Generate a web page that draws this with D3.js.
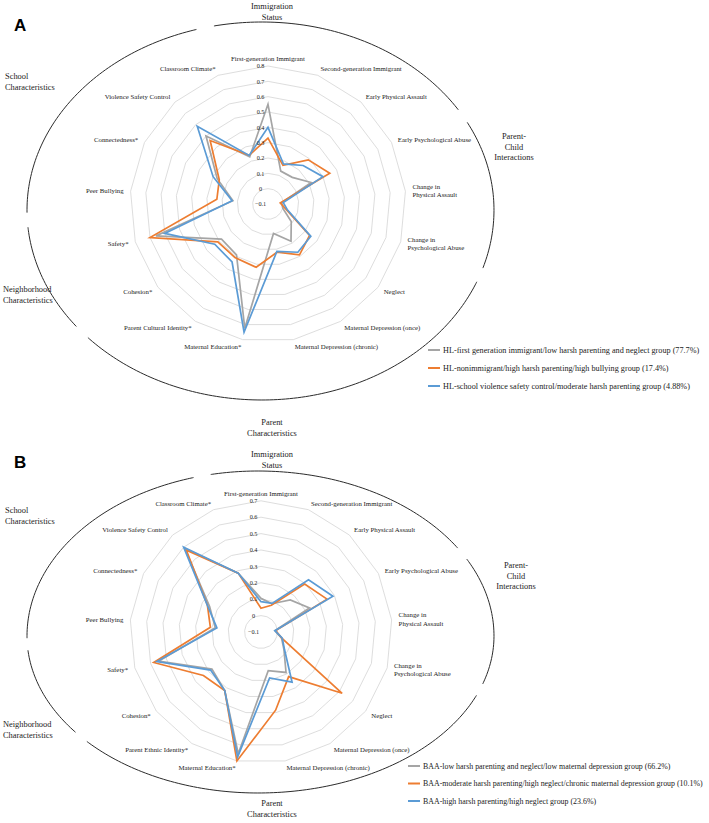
<!DOCTYPE html>
<html><head><meta charset="utf-8">
<script src="https://cdn.jsdelivr.net/npm/d3@7"></script>
<style>
body{margin:0;background:#fff;}
text{font-family:"Liberation Serif","Times New Roman",serif;fill:#222;}
</style>
</head><body>
<svg id="c" width="709" height="823"></svg>
<script>
// ---------- DATA ----------
const axesA = ["First-generation Immigrant","Second-generation Immigrant","Early Physical Assault","Early Psychological Abuse",
  "Change in|Physical Assault","Change in|Psychological Abuse","Neglect","Maternal Depression (once)","Maternal Depression (chronic)",
  "Maternal Education*","Parent Cultural Identity*","Cohesion*","Safety*","Peer Bullying","Connectedness*","Violence Safety Control","Classroom Climate*"];
const axesB = ["First-generation Immigrant","Second-generation Immigrant","Early Physical Assault","Early Psychological Abuse",
  "Change in|Physical Assault","Change in|Psychological Abuse","Neglect","Maternal Depression (once)","Maternal Depression (chronic)",
  "Maternal Education*","Parent Ethnic Identity*","Cohesion*","Safety*","Peer Bullying","Connectedness*","Violence Safety Control","Classroom Climate*"];

const ticksA = [-0.1,0,0.1,0.2,0.3,0.4,0.5,0.6,0.7,0.8];
const ticksB = [-0.1,0,0.1,0.2,0.3,0.4,0.5,0.6,0.7];

const namesA = ["HL-first generation immigrant/low harsh parenting and neglect group (77.7%)",
  "HL-nonimmigrant/high harsh parenting/high bullying group (17.4%)",
  "HL-school violence safety control/moderate harsh parenting group (4.88%)"];
const grayA   = [0.55,0.13,0.135,0.215,-0.01,0.00,0.09,0.185,0.095,0.725,0.29,0.28,0.66,0.13,0.27,0.50,0.23];
const orangeA = [0.33,0.17,0.29,0.35,-0.02,0.02,0.24,0.29,0.22,0.32,0.31,0.31,0.70,0.235,0.255,0.46,0.24];
const blueA   = [0.40,0.18,0.24,0.30,0.00,0.03,0.25,0.27,0.215,0.75,0.345,0.335,0.60,0.135,0.30,0.585,0.24];

const namesB = ["BAA-low harsh parenting and neglect/low maternal depression group (66.2%)",
  "BAA-moderate harsh parenting/high neglect/chronic maternal depression group (10.1%)",
  "BAA-high harsh parenting/high neglect group (23.6%)"];
const grayB   = [0.105,0.085,0.165,0.23,-0.015,0.03,0.075,0.19,0.14,0.655,0.32,0.275,0.55,0.18,0.25,0.59,0.285];
const orangeB = [0.045,0.075,0.295,0.35,-0.01,0.03,0.52,0.22,0.385,0.70,0.32,0.34,0.58,0.21,0.265,0.575,0.285];
const blueB   = [0.085,0.087,0.33,0.39,-0.015,0.035,0.08,0.26,0.185,0.675,0.32,0.285,0.56,0.17,0.265,0.60,0.285];

const colors = ["#a5a5a5","#ed7d31","#5b9bd5"];

const groupsA = [["Immigration","Status"],["School","Characteristics"],["Parent-","Child","Interactions"],["Neighborhood","Characteristics"],["Parent","Characteristics"]];
const groupsB = groupsA;

// ---------- DRAW ----------
const svg = d3.select("#c");

function drawPanel(p) {
  const g = svg.append("g");
  const n = p.axes.length;
  const r = d3.scaleLinear().domain([p.ticks[0], p.ticks[p.ticks.length-1]]).range([0, p.R]);
  const ang = d3.scaleLinear().domain([0, n]).range([0, 2*Math.PI]);
  const c = g.append("g").attr("transform", `translate(${p.cx},${p.cy})`);

  // grid rings
  p.ticks.slice(1).forEach(t => {
    c.append("path")
      .attr("d", d3.lineRadial().angle((d,i)=>ang(i)).radius(()=>r(t)).curve(d3.curveLinearClosed)(d3.range(n)))
      .attr("fill","none").attr("stroke","#d9d9d9").attr("stroke-width",0.9);
  });

  // series
  p.series.forEach((s,k) => {
    c.append("path")
      .attr("d", d3.lineRadial().angle((d,i)=>ang(i)).radius(d=>r(d)).curve(d3.curveLinearClosed)(s))
      .attr("fill","none").attr("stroke",colors[k]).attr("stroke-width",1.7).attr("stroke-linejoin","miter");
  });

  // tick labels
  p.ticks.forEach(t => {
    c.append("text").attr("x",-7.5).attr("y",-r(t)).attr("dy","0.35em")
      .attr("text-anchor","middle").attr("font-size",6.2).text(t === 0 ? "0" : d3.format(".1f")(t));
  });

  // axis labels
  p.axes.forEach((lab,i) => {
    const a = ang(i), rr = p.R + 7;
    const x = rr*Math.sin(a), y = -rr*Math.cos(a);
    const s = Math.sin(a);
    const anchor = Math.abs(s) < 0.1 ? "middle" : (s > 0 ? "start" : "end");
    const lines = lab.split("|");
    const t = c.append("text").attr("text-anchor",anchor).attr("font-size",6.8);
    lines.forEach((ln,j) => {
      t.append("tspan").attr("x",x).attr("y", y + (j - (lines.length-1)/2)*8.4).attr("dy","0.35em").text(ln);
    });
  });

  // enclosing oval arcs with gaps
  const e = p.ell;
  const gaps = e.gaps.slice().sort((a,b)=>a-b);
  const pt = t => {
    const co = Math.cos(t*Math.PI/180), si = Math.sin(t*Math.PI/180);
    return [e.cx + (co >= 0 ? e.rxR : e.rxL)*co, e.cy + (si >= 0 ? e.ryB : e.ryT)*si];
  };
  gaps.forEach((g0,i) => {
    const start = g0 + e.gw;
    const end = (i < gaps.length-1 ? gaps[i+1] : gaps[0] + 360) - e.gw;
    const pts = d3.range(start, end, 1).concat([end]).map(pt);
    g.append("path").attr("d", d3.line().curve(d3.curveBasis)(pts)).attr("fill","none").attr("stroke","#2b2b2b").attr("stroke-width",1);
  });

  // group labels
  p.groupPos.forEach((gp,k) => {
    const t = g.append("text").attr("text-anchor",gp[2]).attr("font-size",8.4);
    p.groups[k].forEach((ln,j) => t.append("tspan").attr("x",gp[0]).attr("y",gp[1]+j*10.5).text(ln));
  });

  // panel letter
  g.append("text").attr("x",p.letter[1]).attr("y",p.letter[2])
    .style("font-family","Arial, 'Liberation Sans', sans-serif").attr("font-weight","bold").attr("font-size",17).style("fill","#000").text(p.letter[0]);

  // legend
  p.names.forEach((nm,k) => {
    const y = p.leg[1] + k*p.leg[2];
    g.append("line").attr("x1",p.leg[0]).attr("x2",p.leg[0]+12).attr("y1",y).attr("y2",y)
      .attr("stroke",colors[k]).attr("stroke-width",2);
    g.append("text").attr("x",p.leg[0]+15).attr("y",y).attr("dy","0.35em").attr("font-size",p.leg[3]).text(nm);
  });
}

drawPanel({
  axes: axesA, ticks: ticksA, series: [grayA, orangeA, blueA], names: namesA,
  cx: 268, cy: 204, R: 138,
  ell: {cx: 262, cy: 210, rxL: 235, rxR: 232, ryT: 188, ryB: 190, gaps: [256, 330, 20, 140, 177], gw: 2.2},
  groups: groupsA,
  groupPos: [[272,9,"middle"],[5,79,"start"],[514,139,"middle"],[3,292,"start"],[272,425,"middle"]],
  letter: ["A", 14, 31],
  leg: [428, 350, 18, 8.2]
});

drawPanel({
  axes: axesB, ticks: ticksB, series: [grayB, orangeB, blueB], names: namesB,
  cx: 261, cy: 632, R: 131.2,
  ell: {cx: 258, cy: 636, rxL: 231, rxR: 236, ryT: 165, ryB: 157, gaps: [256, 330, 20, 140, 177], gw: 2.2},
  groups: groupsB,
  groupPos: [[272,457,"middle"],[5,513,"start"],[516,568,"middle"],[3,727,"start"],[272,806,"middle"]],
  letter: ["B", 14, 468],
  leg: [408, 766, 17.5, 7.9]
});
</script>
</body></html>
